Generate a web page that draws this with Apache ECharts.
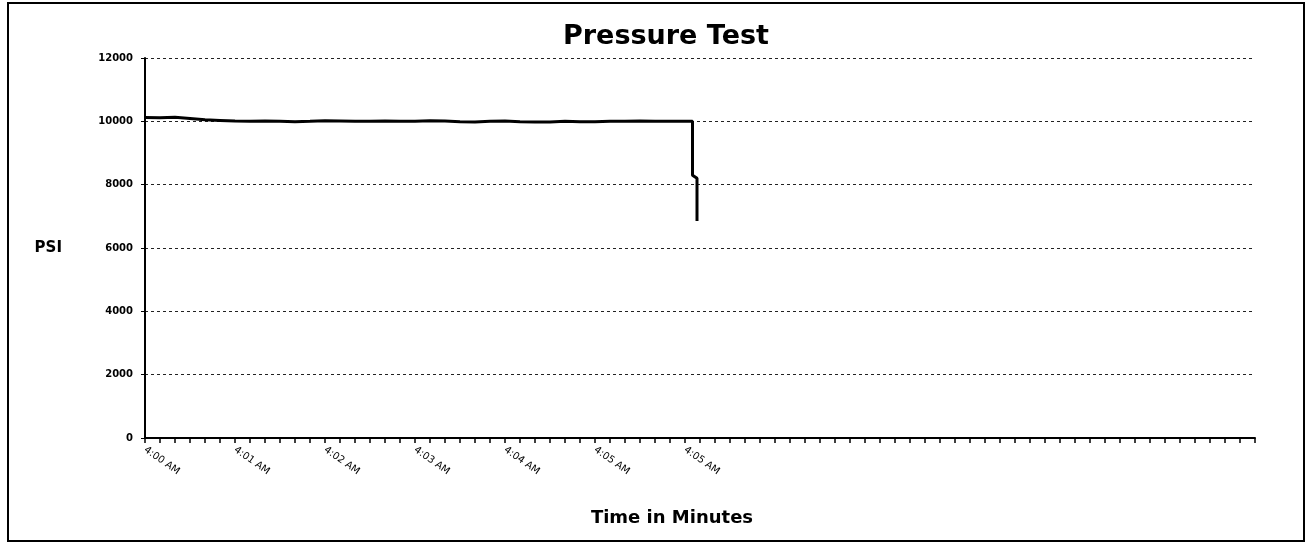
<!DOCTYPE html>
<html>
<head>
<meta charset="utf-8">
<script src="https://cdn.jsdelivr.net/npm/echarts@6/dist/echarts.min.js"></script>
<style>html,body{margin:0;padding:0;background:#fff}#c{width:1309px;height:546px}</style>
</head>
<body>
<div id="c"></div>
<script>
// Time in seconds after 4:00:00 AM
const seconds = [0,10,20,30,40,50,60,70,80,90,100,110,120,130,140,150,160,170,180,190,200,210,220,230,240,250,260,270,280,290,300,310,320,330,340,350,360,365,365,368,368];
// Pressure in PSI
const psi = [10120,10110,10130,10090,10050,10030,10010,10000,10010,10000,9990,10000,10020,10010,10000,10000,10010,10000,10000,10020,10010,9990,9980,10000,10010,9990,9980,9980,10000,9990,9990,10000,10000,10010,10000,10000,10000,10000,8300,8200,6850];
const tickLabels = ["4:00 AM","4:01 AM","4:02 AM","4:03 AM","4:04 AM","4:05 AM","4:05 AM"];
const yTicks = [0,2000,4000,6000,8000,10000,12000];

const data = seconds.map((s,i)=>[s,psi[i]]);
const chart = echarts.init(document.getElementById('c'), null, {renderer:'canvas'});
chart.setOption({
  animation:false,
  backgroundColor:'#fff',
  title:{text:'Pressure Test',left:563,top:23,padding:0,
    textStyle:{fontFamily:'DejaVu Sans',fontWeight:'bold',fontSize:27,color:'#000'}},
  grid:{left:145,right:54,top:58,bottom:108,containLabel:false},
  xAxis:{type:'value',min:0,max:740,interval:10,
    axisLine:{show:true,lineStyle:{color:'#000',width:2}},
    axisTick:{show:true,length:5,lineStyle:{color:'#000',width:1.5}},
    splitLine:{show:false},
    axisLabel:{rotate:-35,margin:11,fontFamily:'DejaVu Sans',fontSize:10,color:'#000',
      formatter:function(v){ if(v%60===0 && v/60<tickLabels.length) return tickLabels[v/60]; return ''; }}
  },
  yAxis:{type:'value',min:yTicks[0],max:yTicks[yTicks.length-1],interval:2000,
    name:'PSI',nameLocation:'middle',nameRotate:0,nameGap:83,
    nameTextStyle:{fontFamily:'DejaVu Sans',fontWeight:'bold',fontSize:15,color:'#000'},
    axisLine:{show:true,lineStyle:{color:'#000',width:2}},
    axisTick:{show:true,length:4,lineStyle:{color:'#000'}},
    splitLine:{show:true,lineStyle:{color:'#222',width:1,type:[3,3]}},
    axisLabel:{margin:12,fontFamily:'DejaVu Sans',fontSize:10,fontWeight:'bold',color:'#000',
      formatter:function(v){ return String(v); }}
  },
  graphic:[
    {type:'rect',shape:{x:8,y:3,width:1296,height:538},style:{fill:null,stroke:'#000',lineWidth:2},silent:true},
    {type:'text',x:672,y:518,style:{text:'Time in Minutes',fontFamily:'DejaVu Sans',fontWeight:'bold',fontSize:18,fill:'#000',align:'center',verticalAlign:'middle'}}
  ],
  series:[{type:'line',data:data,showSymbol:false,symbol:'none',
    lineStyle:{color:'#000',width:3},clip:true}]
});
</script>
</body>
</html>
